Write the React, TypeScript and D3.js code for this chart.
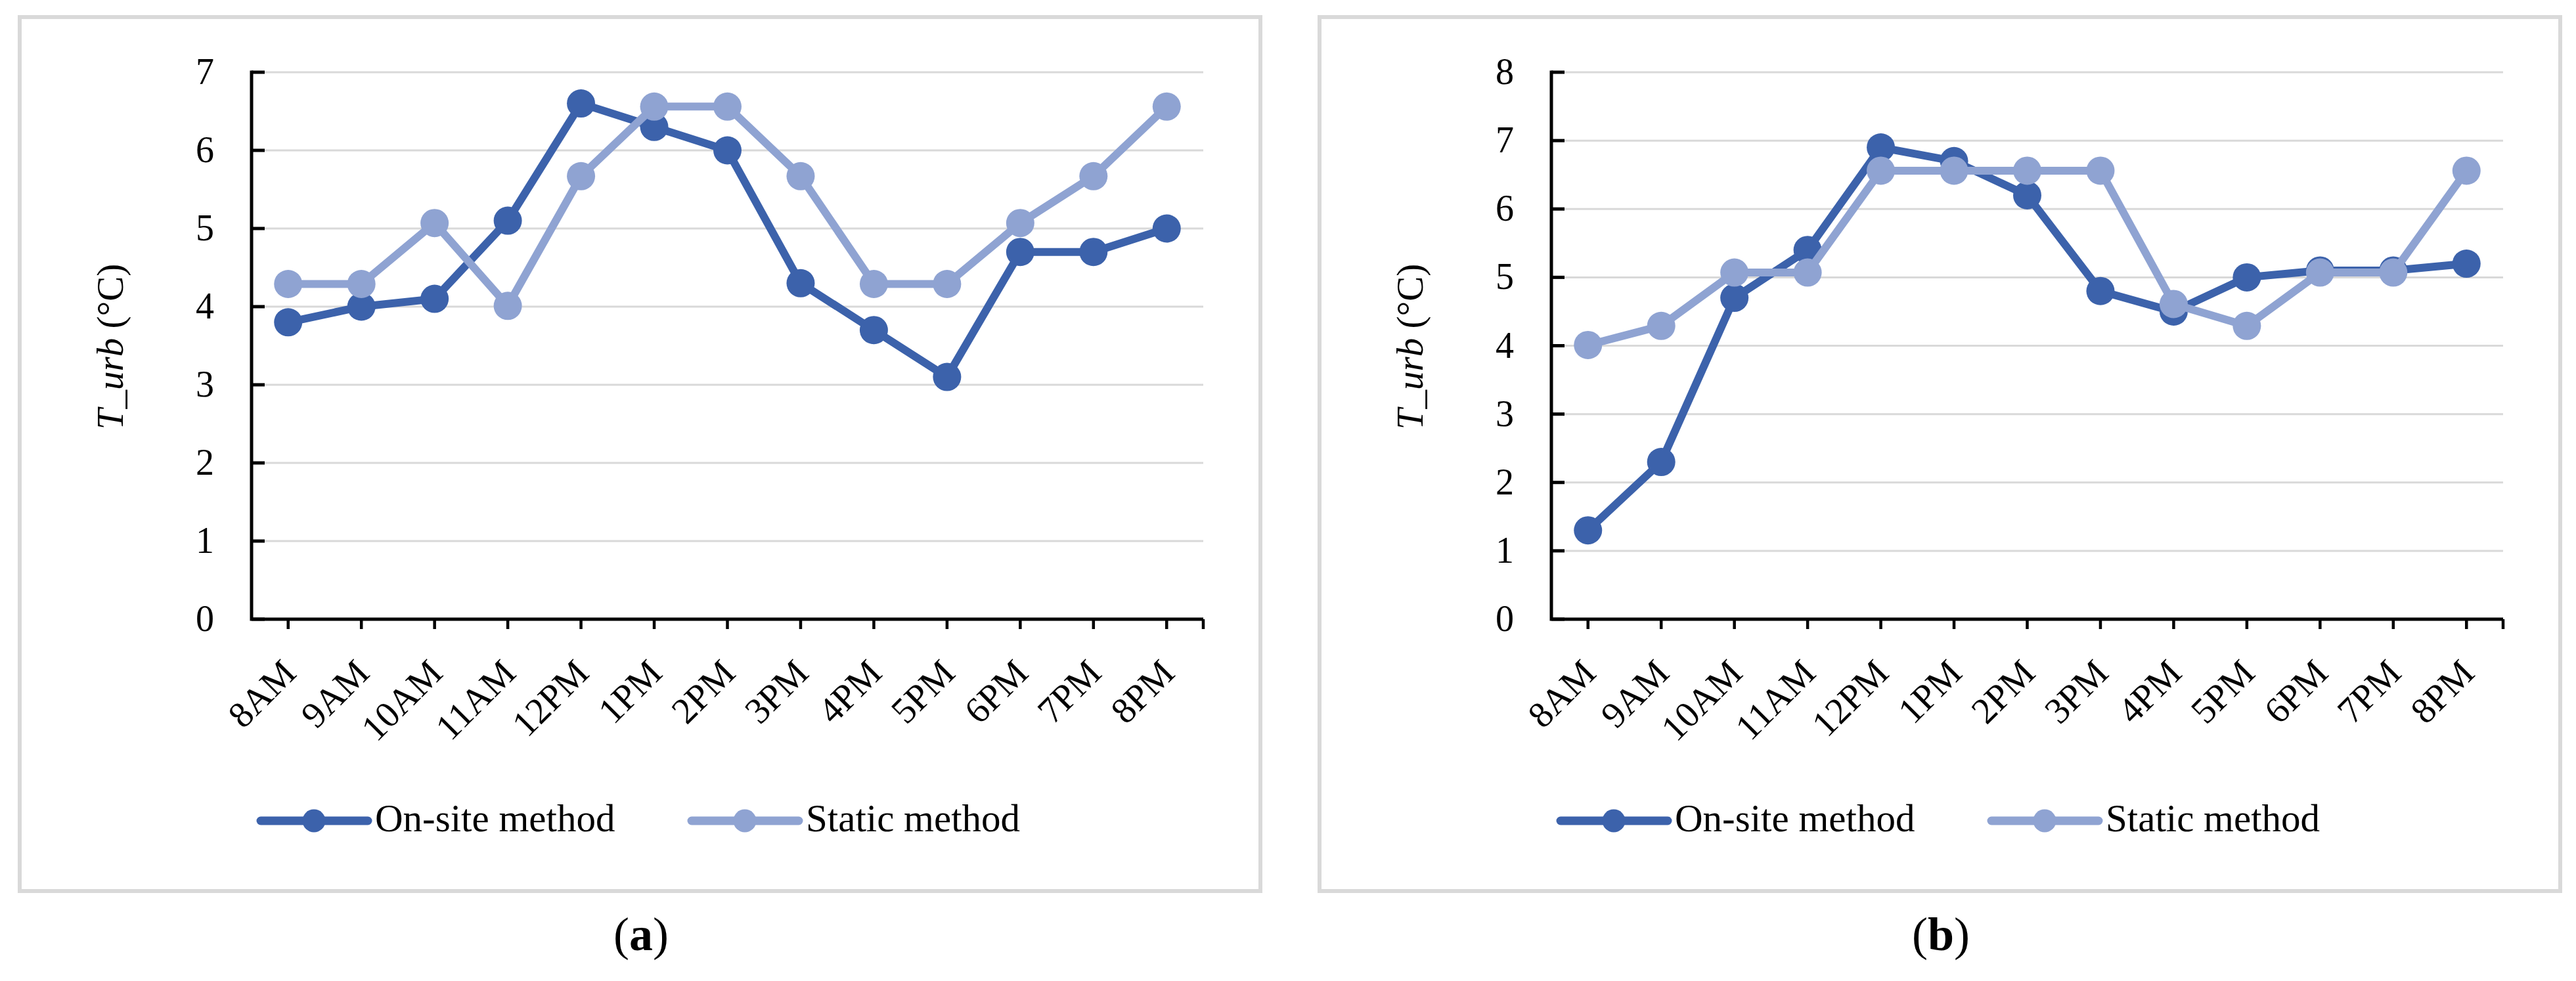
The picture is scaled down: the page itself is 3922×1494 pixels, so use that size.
import React from "react";
import * as d3 from "d3";

const categories = ["8AM", "9AM", "10AM", "11AM", "12PM", "1PM", "2PM", "3PM", "4PM", "5PM", "6PM", "7PM", "8PM"];
const onSiteA = [3.8, 4.0, 4.1, 5.1, 6.6, 6.3, 6.0, 4.3, 3.7, 3.1, 4.7, 4.7, 5.0];
const staticA = [4.29, 4.29, 5.07, 4.01, 5.67, 6.56, 6.56, 5.67, 4.29, 4.29, 5.07, 5.67, 6.56];
const onSiteB = [1.3, 2.3, 4.7, 5.4, 6.9, 6.7, 6.2, 4.8, 4.5, 5.0, 5.1, 5.1, 5.2];
const staticB = [4.01, 4.29, 5.07, 5.07, 6.56, 6.56, 6.56, 6.56, 4.61, 4.29, 5.07, 5.07, 6.56];
const yTicksA = [0, 1, 2, 3, 4, 5, 6, 7];
const yTicksB = [0, 1, 2, 3, 4, 5, 6, 7, 8];
const seriesNames = ["On-site method", "Static method"];
const captions = ["a", "b"];

const DARK = "#3C62AB";
const LIGHT = "#8FA3D2";
const GRID = "#D9D9D9";
const FONT = "'Liberation Serif', 'DejaVu Serif', serif";

type PanelProps = {
  ox: number;
  ticks: number[];
  onSite: number[];
  stat: number[];
  caption: string;
};

function Panel({ ox, ticks, onSite, stat, caption }: PanelProps) {
  const x0 = ox + 383;
  const x1 = ox + 1832;
  const yTop = 110;
  const yBot = 943;
  const x = d3.scaleBand<string>().domain(categories).range([x0, x1]);
  const yMax = ticks[ticks.length - 1];
  const y = d3.scaleLinear().domain([0, yMax]).range([yBot, yTop]);
  const cx = (c: string) => (x(c) as number) + x.bandwidth() / 2;
  const line = d3
    .line<number>()
    .x((_, i) => cx(categories[i]))
    .y((d) => y(d));

  const series = [
    { name: seriesNames[0], values: onSite, color: DARK },
    { name: seriesNames[1], values: stat, color: LIGHT },
  ];

  const legendX = [ox + 397, ox + 1053];

  return (
    <g>
      <rect x={ox + 30} y={26} width={1889} height={1331} fill="white" stroke={GRID} strokeWidth={6} />
      {ticks.map((t) =>
        t === 0 ? null : (
          <line key={"g" + t} x1={x0} x2={x1} y1={y(t)} y2={y(t)} stroke={GRID} strokeWidth={3} />
        )
      )}
      {ticks.map((t) => (
        <line key={"yt" + t} x1={x0} x2={x0 + 20} y1={y(t)} y2={y(t)} stroke="black" strokeWidth={5} />
      ))}
      {ticks.map((t) => (
        <text key={"yl" + t} x={x0 - 57} y={y(t) + 18} textAnchor="end" fontFamily={FONT} fontSize={56}>
          {t}
        </text>
      ))}
      {categories.map((c) => (
        <line key={"xt" + c} x1={cx(c)} x2={cx(c)} y1={yBot} y2={yBot + 15} stroke="black" strokeWidth={4.5} />
      ))}
      <line x1={x1} x2={x1} y1={yBot} y2={yBot + 15} stroke="black" strokeWidth={4.5} />
      <path d={`M${x0},${yTop - 2.5}V${yBot}H${x1}`} fill="none" stroke="black" strokeWidth={5} />
      {categories.map((c) => (
        <text
          key={"xl" + c}
          transform={`translate(${cx(c) + 15},${1028}) rotate(-45)`}
          textAnchor="end"
          fontFamily={FONT}
          fontSize={56}
        >
          {c}
        </text>
      ))}
      <text
        transform={`translate(${ox + 187},${528}) rotate(-90)`}
        textAnchor="middle"
        fontFamily={FONT}
        fontSize={57}
      >
        <tspan fontStyle="italic">T_urb</tspan>
        <tspan> (°C)</tspan>
      </text>
      {series.map((s) => (
        <g key={s.name}>
          <path d={line(s.values) || ""} fill="none" stroke={s.color} strokeWidth={12} strokeLinejoin="round" />
          {s.values.map((v, i) => (
            <circle key={i} cx={cx(categories[i])} cy={y(v)} r={21.5} fill={s.color} />
          ))}
        </g>
      ))}
      {series.map((s, i) => (
        <g key={"lg" + s.name}>
          <line
            x1={legendX[i]}
            x2={legendX[i] + 163}
            y1={1250}
            y2={1250}
            stroke={s.color}
            strokeWidth={13}
            strokeLinecap="round"
          />
          <circle cx={legendX[i] + 81} cy={1250} r={17.5} fill={s.color} />
          <text x={legendX[i] + 174} y={1266} fontFamily={FONT} fontSize={59}>
            {s.name}
          </text>
        </g>
      ))}
      <text x={ox + 976} y={1447} textAnchor="middle" fontFamily={FONT} fontSize={72}>
        <tspan>(</tspan>
        <tspan fontWeight="bold">{caption}</tspan>
        <tspan>)</tspan>
      </text>
    </g>
  );
}

export default function App() {
  return (
    <svg
      width={3922}
      height={1494}
      viewBox="0 0 3922 1494"
      style={{ position: "absolute", left: 0, top: 0, background: "white" }}
    >
      <rect x={0} y={0} width={3922} height={1494} fill="white" />
      <Panel ox={0} ticks={yTicksA} onSite={onSiteA} stat={staticA} caption={captions[0]} />
      <Panel ox={1979} ticks={yTicksB} onSite={onSiteB} stat={staticB} caption={captions[1]} />
    </svg>
  );
}
